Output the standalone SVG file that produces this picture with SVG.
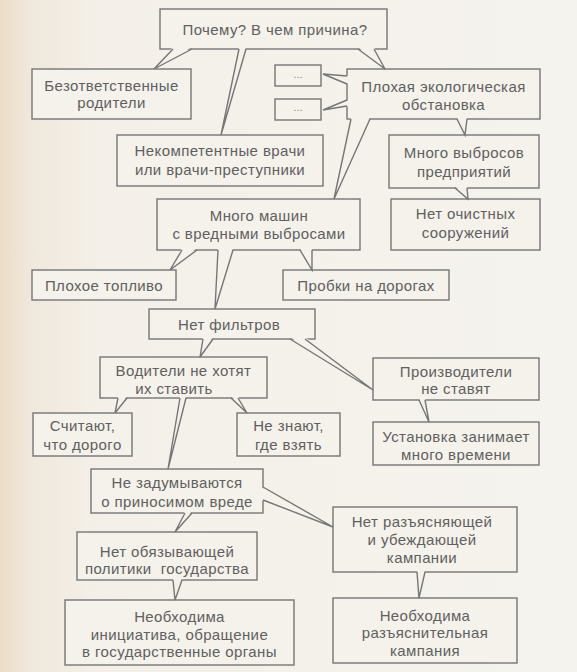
<svg xmlns="http://www.w3.org/2000/svg" width="577" height="672" viewBox="0 0 577 672">
<defs>
<linearGradient id="bg" x1="0" y1="0" x2="1" y2="0">
<stop offset="0" stop-color="#ecdcc6"/>
<stop offset="0.05" stop-color="#f0e8dc"/>
<stop offset="0.18" stop-color="#f4f0e9"/>
<stop offset="1" stop-color="#f5f3ee"/>
</linearGradient>
</defs>
<style>
.box{fill:#f5f2ec;stroke:#767676;stroke-width:1.4}
.t{font-family:"Liberation Sans",Arial,sans-serif;font-size:15px;fill:#606060;text-anchor:middle;letter-spacing:0.4px}
.d{font-family:"Liberation Sans",Arial,sans-serif;font-size:11px;fill:#888;text-anchor:middle}
.tf{fill:#f5f2ec;stroke:none}
.tl{fill:none;stroke:#767676;stroke-width:1.4;stroke-linejoin:miter}
</style>
<rect width="577" height="672" fill="url(#bg)"/>

<g id="q"><rect class="box" x="160" y="9" width="227" height="40"/><text class="t" x="275" y="35">Почему? В чем причина?</text></g>
<g id="parents"><rect class="box" x="32" y="69" width="159" height="50"/><text class="t" x="111.5" y="91">Безответственные</text><text class="t" x="111.5" y="108">родители</text></g>
<g id="dots1"><rect class="box" x="275" y="65" width="46" height="21"/><text class="d" x="298" y="78">...</text></g>
<g id="dots2"><rect class="box" x="275" y="99" width="46" height="21"/><text class="d" x="298" y="111">...</text></g>
<g id="eco"><rect class="box" x="347" y="69" width="193" height="50"/><text class="t" x="443.5" y="92">Плохая экологическая</text><text class="t" x="443.5" y="110">обстановка</text></g>
<g id="doctors"><rect class="box" x="117" y="135" width="206" height="51"/><text class="t" x="220" y="156">Некомпетентные врачи</text><text class="t" x="220" y="175">или врачи-преступники</text></g>
<g id="emissions"><rect class="box" x="389" y="135" width="150" height="53"/><text class="t" x="464" y="158">Много выбросов</text><text class="t" x="464" y="177">предприятий</text></g>
<g id="nocleaning"><rect class="box" x="391" y="199" width="149" height="51"/><text class="t" x="465.5" y="219">Нет очистных</text><text class="t" x="465.5" y="238">сооружений</text></g>
<g id="cars"><rect class="box" x="157" y="199" width="203" height="51"/><text class="t" x="259" y="221">Много машин</text><text class="t" x="259" y="239">с вредными выбросами</text></g>
<g id="fuel"><rect class="box" x="32" y="270" width="144" height="30"/><text class="t" x="104" y="291">Плохое топливо</text></g>
<g id="jams"><rect class="box" x="283" y="270" width="166" height="30"/><text class="t" x="366" y="291">Пробки на дорогах</text></g>
<g id="filters"><rect class="box" x="149" y="309" width="166" height="30"/><text class="t" x="229" y="330">Нет фильтров</text></g>
<g id="drivers"><rect class="box" x="100" y="357" width="167" height="41"/><text class="t" x="183.5" y="376">Водители не хотят</text><text class="t" x="174" y="394">их ставить</text></g>
<g id="expensive"><rect class="box" x="33" y="413" width="99" height="43"/><text class="t" x="82.5" y="431">Считают,</text><text class="t" x="82.5" y="450">что дорого</text></g>
<g id="dontknow"><rect class="box" x="237" y="413" width="103" height="43"/><text class="t" x="288.5" y="431">Не знают,</text><text class="t" x="288.5" y="450">где взять</text></g>
<g id="producers"><rect class="box" x="373" y="358" width="166" height="42"/><text class="t" x="456" y="377">Производители</text><text class="t" x="456" y="394">не ставят</text></g>
<g id="install"><rect class="box" x="373" y="422" width="166" height="43"/><text class="t" x="456" y="442">Установка занимает</text><text class="t" x="456" y="460">много времени</text></g>
<g id="nothink"><rect class="box" x="91" y="469" width="172" height="44"/><text class="t" x="177" y="488">Не задумываются</text><text class="t" x="177" y="507">о приносимом вреде</text></g>
<g id="policy"><rect class="box" x="77" y="532" width="180" height="48"/><text class="t" x="167" y="557">Нет обязывающей</text><text class="t" x="167" y="574">политики&#160; государства</text></g>
<g id="initiative"><rect class="box" x="65" y="600" width="229" height="65"/><text class="t" x="179.5" y="622">Необходима</text><text class="t" x="179.5" y="640">инициатива, обращение</text><text class="t" x="179.5" y="657">в государственные органы</text></g>
<g id="explain"><rect class="box" x="333" y="507" width="184" height="65"/><text class="t" x="422" y="527">Нет разъясняющей</text><text class="t" x="422" y="545">и убеждающей</text><text class="t" x="422" y="563">кампании</text></g>
<g id="campaign"><rect class="box" x="333" y="598" width="184" height="65"/><text class="t" x="425" y="621">Необходима</text><text class="t" x="425" y="638">разъяснительная</text><text class="t" x="425" y="656">кампания</text></g>

<g id="connectors">
<path class="tf" d="M173,47 L154,69 L192,47 Z"/><path class="tl" d="M173,49 L154,69 L192,49"/>
<path class="tf" d="M239,47 L221,135 L246,47 Z"/><path class="tl" d="M239,49 L221,135 L246,49"/>
<path class="tf" d="M358,47 L385,69 L374,47 Z"/><path class="tl" d="M358,49 L385,69 L374,49"/>
<path class="tf" d="M349,76 L323,74 L349,84 Z"/><path class="tl" d="M347,76 L323,74 L347,84"/>
<path class="tf" d="M349,100 L323,110 L349,106 Z"/><path class="tl" d="M347,100 L323,110 L347,106"/>
<path class="tf" d="M351,117 L334,199 L370,117 Z"/><path class="tl" d="M351,119 L334,199 L370,119"/>
<path class="tf" d="M457,117 L465,135 L467,117 Z"/><path class="tl" d="M457,119 L465,135 L467,119"/>
<path class="tf" d="M455,186 L468,199 L467,186 Z"/><path class="tl" d="M455,188 L468,199 L467,188"/>
<path class="tf" d="M182,248 L170,270 L197,248 Z"/><path class="tl" d="M182,250 L170,270 L197,250"/>
<path class="tf" d="M218,248 L215,309 L233,248 Z"/><path class="tl" d="M218,250 L215,309 L233,250"/>
<path class="tf" d="M300,248 L312,270 L312,248 Z"/><path class="tl" d="M300,250 L312,270 L312,250"/>
<path class="tf" d="M203,337 L200,357 L213,337 Z"/><path class="tl" d="M203,339 L200,357 L213,339"/>
<path class="tf" d="M290,337 L373,390 L305,337 Z"/><path class="tl" d="M290,339 L373,390 L305,339"/>
<path class="tf" d="M118,396 L115,413 L127,396 Z"/><path class="tl" d="M118,398 L115,413 L127,398"/>
<path class="tf" d="M231,396 L247,413 L238,396 Z"/><path class="tl" d="M231,398 L247,413 L238,398"/>
<path class="tf" d="M180,396 L168,469 L186,396 Z"/><path class="tl" d="M180,398 L168,469 L186,398"/>
<path class="tf" d="M419,398 L429,422 L425,398 Z"/><path class="tl" d="M419,400 L429,422 L425,400"/>
<path class="tf" d="M261,487 L333,527 L261,500 Z"/><path class="tl" d="M263,487 L333,527 L263,500"/>
<path class="tf" d="M185,511 L175,532 L192,511 Z"/><path class="tl" d="M185,513 L175,532 L192,513"/>
<path class="tf" d="M173,578 L175,600 L182,578 Z"/><path class="tl" d="M173,580 L175,600 L182,580"/>
<path class="tf" d="M417,570 L419,598 L425,570 Z"/><path class="tl" d="M417,572 L419,598 L425,572"/>
</g>
</svg>
